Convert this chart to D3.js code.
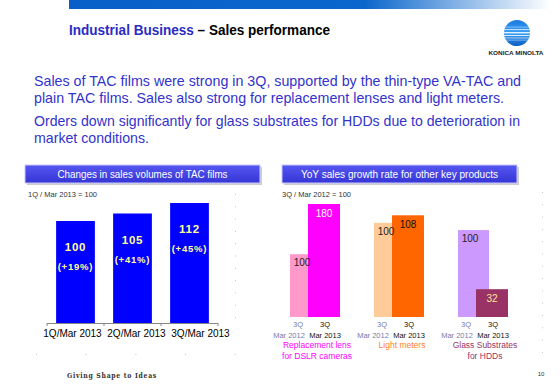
<!DOCTYPE html>
<html>
<head>
<meta charset="utf-8">
<script src="https://d3js.org/d3.v7.min.js"></script>
<style>
  body { margin: 0; background: #fff; }
  svg { display: block; font-family: "Liberation Sans", Arial, sans-serif; }
</style>
</head>
<body>
<svg id="chart" width="560" height="388"></svg>
<script>
// --- data ---
var bodyLines = [
  "Sales of TAC films were strong in 3Q, supported by the thin-type VA-TAC and",
  "plain TAC films. Sales also strong for replacement lenses and light meters.",
  "Orders down significantly for glass substrates for HDDs due to deterioration in",
  "market conditions."
];

// left chart: TAC films
var tacCats = ["1Q/Mar 2013", "2Q/Mar 2013", "3Q/Mar 2013"];
var tacValues = [100, 105, 112];
var tacGrowth = ["(+19%)", "(+41%)", "(+45%)"];

// right chart: other key products (3Q Mar 2012 = 100)
var productNames = [["Replacement lens", "for DSLR cameras"], ["Light meters"], ["Glass Substrates", "for HDDs"]];
var prevValues = [100, 100, 100];
var currValues = [180, 108, 32];
var groupScaleMax = [180, 120, 130];
var prevPeriod = ["3Q", "Mar 2012"];
var currPeriod = ["3Q", "Mar 2013"];

var prevColors = ["#ff99cc", "#ffcc99", "#cc99ff"];
var currColors = ["#ff00ff", "#ff6600", "#993366"];
var nameColors = ["#ff00ff", "#ff7f2a", "#993366"];
var currLabelColors = ["#ffffff", "#111111", "#ffe699"];

var svg = d3.select("#chart");
var defs = svg.append("defs");

// top banner gradient
var bg = defs.append("linearGradient").attr("id", "banner");
bg.append("stop").attr("offset", "0%").attr("stop-color", "#0760c8");
bg.append("stop").attr("offset", "60%").attr("stop-color", "#0a66cc");
bg.append("stop").attr("offset", "98%").attr("stop-color", "#ffffff");
svg.append("rect").attr("x", 69).attr("y", 0).attr("width", 491).attr("height", 9).attr("fill", "url(#banner)");

// title
var title = svg.append("text")
  .attr("x", 69).attr("y", 35)
  .attr("font-size", 14).attr("font-weight", "bold")
  .attr("textLength", 261).attr("lengthAdjust", "spacingAndGlyphs");
title.append("tspan").attr("fill", "#2b2bc4").text("Industrial Business ");
title.append("tspan").attr("fill", "#000").text("\u2013 Sales performance");

// logo
var lg = defs.append("linearGradient").attr("id", "logoGrad").attr("x1", 0).attr("y1", 0).attr("x2", 0).attr("y2", 1);
lg.append("stop").attr("offset", "0%").attr("stop-color", "#1a7ae0");
lg.append("stop").attr("offset", "50%").attr("stop-color", "#3aa0f5");
lg.append("stop").attr("offset", "100%").attr("stop-color", "#0a5cc4");
defs.append("clipPath").attr("id", "logoClip")
  .append("circle").attr("cx", 517).attr("cy", 33).attr("r", 13);
svg.append("circle").attr("cx", 517).attr("cy", 33).attr("r", 13).attr("fill", "url(#logoGrad)");
var logoLines = svg.append("g").attr("clip-path", "url(#logoClip)");
[[-1, 1.4], [2, 1.0], [4.6, 0.7], [-3.8, 0.9], [6.8, 0.5], [-6.2, 0.5]].forEach(function(l) {
  logoLines.append("rect").attr("x", 503).attr("y", 33 + l[0]).attr("width", 28).attr("height", l[1])
    .attr("fill", "#ffffff").attr("opacity", 0.85);
});
svg.append("text").attr("x", 516).attr("y", 55).attr("text-anchor", "middle")
  .attr("font-size", 6).attr("font-weight", "bold").attr("fill", "#222")
  .attr("textLength", 55).attr("lengthAdjust", "spacingAndGlyphs")
  .text("KONICA MINOLTA");

// body text
var bodyY = [86, 103, 126, 143];
var bodyW = [487, 470, 486, 115];
svg.selectAll("text.body").data(bodyLines).enter().append("text")
  .attr("class", "body")
  .attr("x", 34).attr("y", function(d, i) { return bodyY[i]; })
  .attr("font-size", 14.5).attr("fill", "#3333cc")
  .attr("textLength", function(d, i) { return bodyW[i]; })
  .attr("lengthAdjust", "spacingAndGlyphs")
  .text(function(d) { return d; });

// header boxes
var hg = defs.append("linearGradient").attr("id", "hdr").attr("x1", 0).attr("y1", 0).attr("x2", 0).attr("y2", 1);
hg.append("stop").attr("offset", "0%").attr("stop-color", "#5656f0");
hg.append("stop").attr("offset", "100%").attr("stop-color", "#3535d6");
function header(x, w, label, tw) {
  svg.append("rect").attr("x", x + 2).attr("y", 167).attr("width", w).attr("height", 18).attr("fill", "#aaaaaa").attr("opacity", 0.6);
  svg.append("rect").attr("x", x).attr("y", 165).attr("width", w).attr("height", 18)
    .attr("fill", "url(#hdr)").attr("stroke", "#c8c8ff").attr("stroke-width", 1);
  svg.append("text").attr("x", x + w / 2).attr("y", 178).attr("text-anchor", "middle")
    .attr("font-size", 11).attr("fill", "#fff")
    .attr("textLength", tw).attr("lengthAdjust", "spacingAndGlyphs").text(label);
}
header(25, 235, "Changes in sales volumes of TAC films", 170);
header(282, 235, "YoY sales growth rate for other key products", 197);

svg.append("text").attr("x", 28).attr("y", 196.5).attr("font-size", 7.5).attr("fill", "#333")
  .text("1Q / Mar 2013 = 100");
svg.append("text").attr("x", 282).attr("y", 196.5).attr("font-size", 7.5).attr("fill", "#333")
  .text("3Q / Mar 2012 = 100");

// faint dotted leftovers
var dots = svg.append("g").attr("stroke", "#c4c4c4").attr("stroke-width", 1);
dots.append("line").attr("x1", 235.5).attr("x2", 235.5).attr("y1", 194).attr("y2", 320).attr("stroke-dasharray", "1,11.3");
dots.append("line").attr("x1", 36).attr("x2", 237).attr("y1", 354.5).attr("y2", 354.5).attr("stroke-dasharray", "1,48.7");
dots.append("line").attr("x1", 542.5).attr("x2", 542.5).attr("y1", 192).attr("y2", 360).attr("stroke-dasharray", "1,11.3");

// ---- left chart ----
var x1 = d3.scaleBand().domain(tacCats).range([47, 218]).paddingInner(0.32).paddingOuter(0.16);
var y1 = d3.scaleLinear().domain([32, 112]).range([323, 203]);

var left = svg.append("g");
left.selectAll("rect").data(tacValues).enter().append("rect")
  .attr("x", function(d, i) { return x1(tacCats[i]); })
  .attr("y", function(d) { return y1(d); })
  .attr("width", x1.bandwidth())
  .attr("height", function(d) { return y1.range()[0] - y1(d); })
  .attr("fill", "#0000ff");
left.selectAll("text.val").data(tacValues).enter().append("text")
  .attr("class", "val")
  .attr("x", function(d, i) { return x1(tacCats[i]) + x1.bandwidth() / 2; })
  .attr("y", function(d) { return y1(d) + 30; })
  .attr("text-anchor", "middle").attr("font-size", 11.5).attr("font-weight", "bold")
  .attr("letter-spacing", 0.8).attr("fill", "#ffff99")
  .text(function(d) { return d; });
left.selectAll("text.pct").data(tacValues).enter().append("text")
  .attr("class", "pct")
  .attr("x", function(d, i) { return x1(tacCats[i]) + x1.bandwidth() / 2; })
  .attr("y", function(d) { return y1(d) + 49; })
  .attr("text-anchor", "middle").attr("font-size", 9.5).attr("font-weight", "bold")
  .attr("letter-spacing", 0.8).attr("fill", "#ffff99")
  .text(function(d, i) { return tacGrowth[i]; });

// axis line with ticks between categories
var axisG = left.append("g").attr("transform", "translate(0,323)");
axisG.append("line").attr("x1", 47).attr("x2", 218).attr("y1", 0.5).attr("y2", 0.5).attr("stroke", "#888");
tacCats.forEach(function(c, i) {
  var tx = i === 0 ? 47 : x1(c) - x1.step() * x1.paddingInner() / 2;
  axisG.append("line").attr("x1", tx).attr("x2", tx).attr("y1", 0).attr("y2", 3).attr("stroke", "#888");
});
axisG.append("line").attr("x1", 218).attr("x2", 218).attr("y1", 0).attr("y2", 3).attr("stroke", "#888");
var xAxis = d3.axisBottom(x1).tickSize(0).tickPadding(0);
var xa = left.append("g").attr("transform", "translate(0,330)").call(xAxis);
xa.select(".domain").remove();
xa.selectAll("text").attr("font-size", 10).attr("fill", "#000").attr("font-family", null)
  .attr("dy", "0.71em").attr("dx", function(d, i) { return i * 7 - 3; });

// ---- right chart ----
var xp = d3.scalePoint().domain([0, 1, 2]).range([290, 458]);
var base = 317;
var right = svg.append("g");
productNames.forEach(function(name, i) {
  var ys = d3.scaleLinear().domain([0, groupScaleMax[i]]).range([base, 204]);
  var px = xp(i);
  right.append("rect").attr("x", px).attr("y", ys(prevValues[i])).attr("width", 31)
    .attr("height", base - ys(prevValues[i])).attr("fill", prevColors[i]);
  right.append("rect").attr("x", px + 18).attr("y", ys(currValues[i])).attr("width", 32)
    .attr("height", base - ys(currValues[i])).attr("fill", currColors[i]);
  right.append("text").attr("x", px + 12).attr("y", ys(prevValues[i]) + 12)
    .attr("text-anchor", "middle").attr("font-size", 10).attr("fill", "#222").text(prevValues[i]);
  right.append("text").attr("x", px + 34).attr("y", ys(currValues[i]) + 13)
    .attr("text-anchor", "middle").attr("font-size", 10).attr("fill", currLabelColors[i]).text(currValues[i]);
  // period labels
  right.append("text").attr("x", px + 8).attr("y", 327).attr("text-anchor", "middle")
    .attr("font-size", 7.5).attr("fill", "#7a7aa8").text(prevPeriod[0]);
  right.append("text").attr("x", px - 1).attr("y", 338).attr("text-anchor", "middle")
    .attr("font-size", 7.5).attr("fill", "#7a7aa8").text(prevPeriod[1]);
  right.append("text").attr("x", px + 35).attr("y", 327).attr("text-anchor", "middle")
    .attr("font-size", 7.5).attr("fill", "#111").text(currPeriod[0]);
  right.append("text").attr("x", px + 35).attr("y", 338).attr("text-anchor", "middle")
    .attr("font-size", 7.5).attr("fill", "#111").text(currPeriod[1]);
  // product names
  name.forEach(function(line, j) {
    right.append("text").attr("x", px + (i === 1 ? 28 : 27)).attr("y", 348 + j * 11)
      .attr("text-anchor", "middle").attr("font-size", 8.5).attr("fill", nameColors[i]).text(line);
  });
});

// footer
svg.append("text").attr("x", 112).attr("y", 378).attr("text-anchor", "middle")
  .attr("font-size", 8).attr("font-weight", "bold").attr("letter-spacing", 0.9).attr("fill", "#333")
  .attr("font-family", "'DejaVu Serif', serif")
  .attr("textLength", 90).attr("lengthAdjust", "spacingAndGlyphs")
  .text("Giving Shape to Ideas");
svg.append("text").attr("x", 541).attr("y", 376).attr("text-anchor", "middle")
  .attr("font-size", 6).attr("fill", "#333").text("10");
</script>
</body>
</html>
